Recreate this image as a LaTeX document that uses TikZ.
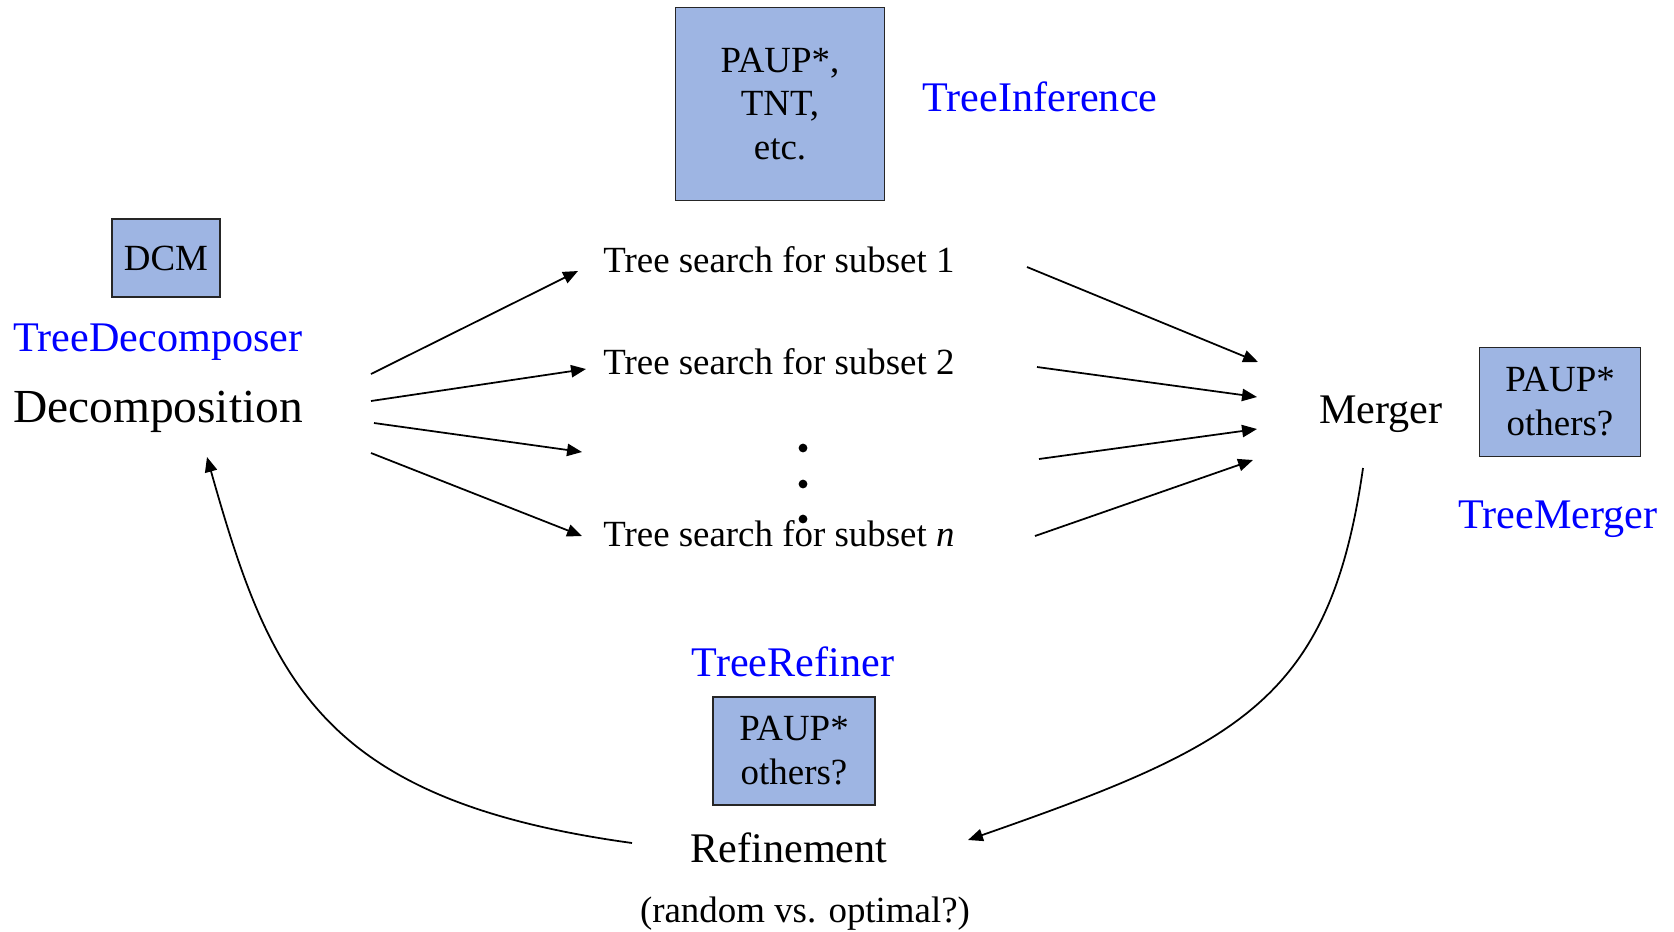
\documentclass[tikz,border=0pt]{standalone}
\usepackage{fontspec}
\setmainfont{Liberation Serif}
\usetikzlibrary{arrows.meta,positioning,calc}

\definecolor{boxblue}{HTML}{9EB5E3}

\begin{document}
\begin{tikzpicture}[
  x=0.02cm, y=-0.02cm,
  >={Triangle[length=8.5pt,width=7pt]},
  box/.style={draw=black!85, line width=0.9pt, fill=boxblue, align=center,
              inner sep=0pt, font=\fontsize{21}{25}\selectfont},
  tool/.style={text=blue, font=\fontsize{24}{28}\selectfont, inner sep=0pt},
  stage/.style={font=\fontsize{24}{28}\selectfont, inner sep=0pt},
  srch/.style={font=\fontsize{21}{25}\selectfont, anchor=west, inner sep=0pt},
  link/.style={->, line width=1pt},
]
  \useasboundingbox (0,0) rectangle (1674,931);

  % tree inference
  \node[box, minimum width=4.18cm, minimum height=3.86cm] (inf) at (780,104)
    {PAUP*,\\TNT,\\etc.};
  \node[tool] (infname) at (1040,97) {TreeInference};

  % decomposition
  \node[box, minimum width=2.16cm, minimum height=1.56cm] (dcm) at (166,258) {DCM};
  \node[tool] (decname) at (158,342) {TreeDecomposer};
  \node[font=\fontsize{27}{32}\selectfont, inner sep=0pt] (dec) at (158,412)
    {Decomposition};

  % subsets
  \node[srch] (s1) at (603,260) {Tree search for subset 1};
  \node[srch] (s2) at (603,362) {Tree search for subset 2};
  \node[srch] (sn) at (603,534) {Tree search for subset \textit{n}};
  \foreach \y/\nm in {448/da, 484/db, 519/dc}
    \node[circle, fill, inner sep=0pt, minimum size=5pt] (\nm) at (803,\y) {};

  % merger
  \node[stage] (mrg) at (1381,414) {Merger};
  \node[box, minimum width=3.22cm, minimum height=2.18cm] (mbox) at (1560,402)
    {PAUP*\\others?};
  \node[tool] (mname) at (1558,519) {TreeMerger};

  % refinement
  \node[tool] (rname) at (793,662) {TreeRefiner};
  \node[box, minimum width=3.24cm, minimum height=2.16cm] (rbox) at (794,751)
    {PAUP*\\others?};
  \node[stage] (ref) at (789,848) {Refinement};
  \node[font=\fontsize{21}{25}\selectfont, inner sep=0pt] (refnote) at (805,914)
    {(random vs. optimal?)};

  % fan out / fan in end points
  \coordinate (lo1) at (371,374);  \coordinate (li1) at (578,271);
  \coordinate (lo2) at (371,401);  \coordinate (li2) at (586,369);
  \coordinate (lo3) at (374,423);  \coordinate (li3) at (582,452);
  \coordinate (lo4) at (371,453);  \coordinate (li4) at (582,536);
  \coordinate (ro1) at (1027,267); \coordinate (ri1) at (1258,362);
  \coordinate (ro2) at (1037,367); \coordinate (ri2) at (1257,397);
  \coordinate (ro3) at (1039,459); \coordinate (ri3) at (1257,429);
  \coordinate (ro4) at (1035,536); \coordinate (ri4) at (1253,460);
  \coordinate (mout) at (1363,468); \coordinate (rin) at (968,840);
  \coordinate (rout) at (632,843);  \coordinate (din) at (207,457);

  \foreach \i in {1,2,3,4} {
    \draw[link] (lo\i) -- (li\i);
    \draw[link] (ro\i) -- (ri\i);
  }

  \draw[link] (mout) .. controls (1330,700) and (1240,745) .. (rin);
  \draw[link] (rout) .. controls (320,800) and (270,680) .. (din);
\end{tikzpicture}
\end{document}
